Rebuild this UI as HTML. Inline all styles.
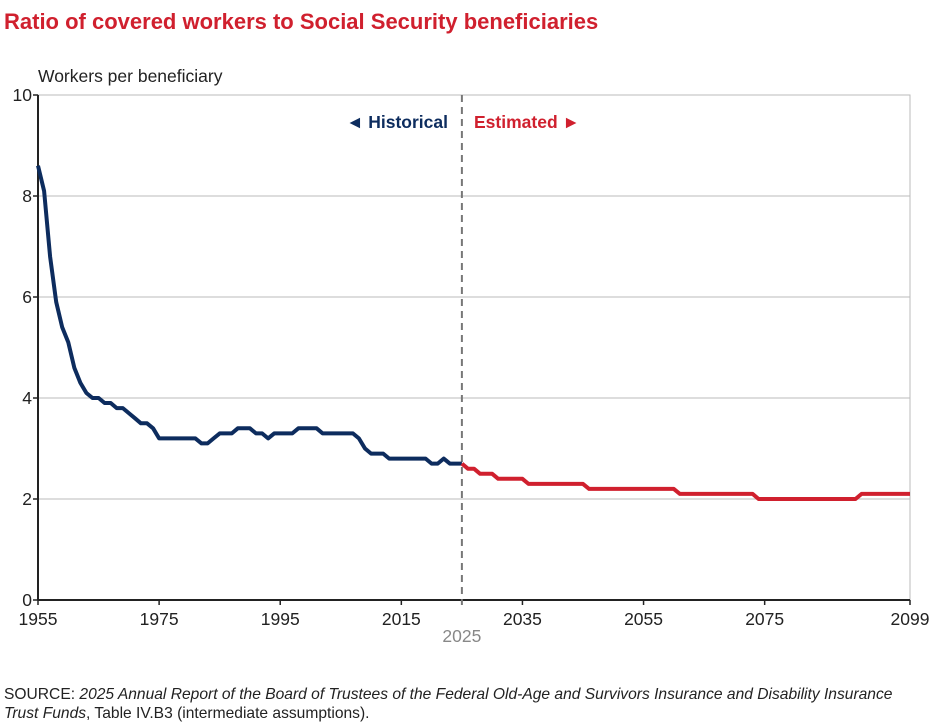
<!DOCTYPE html>
<html><head><meta charset="utf-8"><style>
body{margin:0;background:#fff;width:934px;height:723px;overflow:hidden;font-family:"Liberation Sans",Arial,sans-serif}
</style></head><body>
<svg width="934" height="723" style="position:absolute;left:0;top:0">
<text x="4" y="29" font-size="22" font-weight="bold" fill="#d0202e">Ratio of covered workers to Social Security beneficiaries</text>
<text x="38" y="82" font-size="17.5" fill="#222">Workers per beneficiary</text>
<g id="grid"></g>
<g id="axes"></g>
<g id="lines"></g>
<text x="448" y="128" font-size="17.5" font-weight="bold" fill="#0d2c5e" text-anchor="end">◄ Historical</text>
<text x="474" y="128" font-size="17.5" font-weight="bold" fill="#d0202e">Estimated ►</text>
<text x="4" y="699" font-size="15.6" fill="#222">SOURCE: <tspan font-style="italic">2025 Annual Report of the Board of Trustees of the Federal Old-Age and Survivors Insurance and Disability Insurance</tspan></text>
<text x="4" y="718" font-size="15.6" fill="#222"><tspan font-style="italic">Trust Funds</tspan>, Table IV.B3 (intermediate assumptions).</text>
</svg>
<script>
const histYears0 = 1955;
const histValues = [8.6,8.1,6.8,5.9,5.4,5.1,4.6,4.3,4.1,4.0,4.0,3.9,3.9,3.8,3.8,3.7,3.6,3.5,3.5,3.4,3.2,3.2,3.2,3.2,3.2,3.2,3.2,3.1,3.1,3.2,3.3,3.3,3.3,3.4,3.4,3.4,3.3,3.3,3.2,3.3,3.3,3.3,3.3,3.4,3.4,3.4,3.4,3.3,3.3,3.3,3.3,3.3,3.3,3.2,3.0,2.9,2.9,2.9,2.8,2.8,2.8,2.8,2.8,2.8,2.8,2.7,2.7,2.8,2.7,2.7,2.7];
const estYears0 = 2025;
const estValues = [2.7,2.6,2.6,2.5,2.5,2.5,2.4,2.4,2.4,2.4,2.4,2.3,2.3,2.3,2.3,2.3,2.3,2.3,2.3,2.3,2.3,2.2,2.2,2.2,2.2,2.2,2.2,2.2,2.2,2.2,2.2,2.2,2.2,2.2,2.2,2.2,2.1,2.1,2.1,2.1,2.1,2.1,2.1,2.1,2.1,2.1,2.1,2.1,2.1,2.0,2.0,2.0,2.0,2.0,2.0,2.0,2.0,2.0,2.0,2.0,2.0,2.0,2.0,2.0,2.0,2.0,2.1,2.1,2.1,2.1,2.1,2.1,2.1,2.1,2.1];
const yTicks = [0,2,4,6,8,10];
const xTicks = [1955,1975,1995,2015,2035,2055,2075,2099];
const dividerYear = 2025;
const X0=38,X1=910,Y0=600,Y1=95;
const xs = y => X0+(y-1955)/(2099-1955)*(X1-X0);
const ys = v => Y0-v/10*(Y0-Y1);
const NS="http://www.w3.org/2000/svg";
function mk(parent,tag,attrs,text){const e=document.createElementNS(NS,tag);for(const k in attrs)e.setAttribute(k,attrs[k]);if(text!==undefined)e.textContent=text;document.getElementById(parent).appendChild(e);return e;}
mk('grid','rect',{x:X0,y:Y1,width:X1-X0,height:Y0-Y1,fill:'none',stroke:'#bbb','stroke-width':1});
yTicks.forEach(t=>{
  const g=mk('grid','line',{x1:X0,x2:X1,y1:ys(t),y2:ys(t),stroke:'#bbb','stroke-width':1});
  
  
  const tk=mk('axes','line',{x1:X0-5,x2:X0,y1:ys(t),y2:ys(t),stroke:'#222','stroke-width':1.5});
  
  
  const l=mk('axes','text',{x:X0-6,y:ys(t)+6,'font-size':17.5,'text-anchor':'end',fill:'#222'},t);
  
  
});
mk('axes','line',{x1:X0,x2:X0,y1:Y1,y2:Y0,stroke:'#222','stroke-width':2});
mk('axes','line',{x1:X0,x2:X1,y1:Y0,y2:Y0,stroke:'#222','stroke-width':2});
xTicks.forEach(t=>{
  const tk=mk('axes','line',{x1:xs(t),x2:xs(t),y1:Y0,y2:Y0+5,stroke:'#222','stroke-width':1.5});
  
  
  const l=mk('axes','text',{x:xs(t),y:Y0+25,'font-size':17.5,'text-anchor':'middle',fill:'#222'},t);
  
  
});
const dv=mk('axes','line',{x1:xs(dividerYear),x2:xs(dividerYear),y1:Y1,y2:Y0+5,stroke:'#777','stroke-width':2,'stroke-dasharray':'7,5'});


const dl=mk('axes','text',{x:xs(dividerYear),y:Y0+42,'font-size':17.5,'text-anchor':'middle',fill:'#888'},dividerYear);


function path(vals,y0){return vals.map((v,i)=>(i?'L':'M')+xs(y0+i).toFixed(1)+','+ys(v).toFixed(1)).join('');}
const h=mk('lines','path',{d:path(histValues,histYears0),fill:'none',stroke:'#0d2c5e','stroke-width':4,'stroke-linejoin':'round'});


const e=mk('lines','path',{d:path(estValues,estYears0),fill:'none',stroke:'#d0202e','stroke-width':4,'stroke-linejoin':'round'});


</script>
</body></html>
